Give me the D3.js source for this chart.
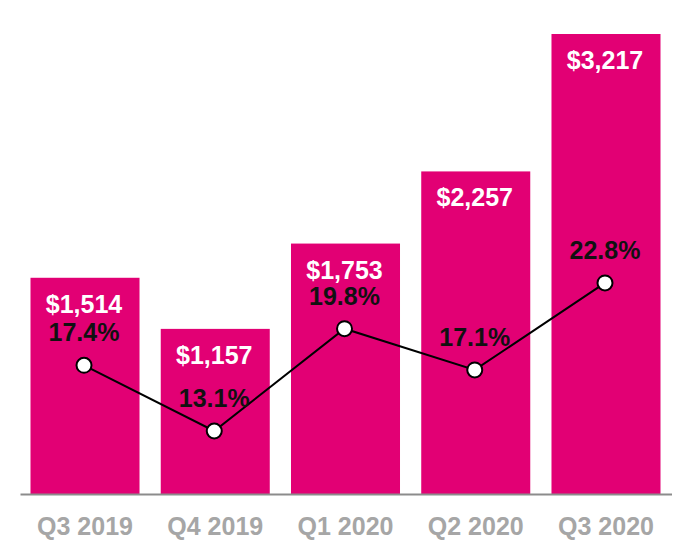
<!DOCTYPE html>
<html>
<head>
<meta charset="utf-8">
<script src="https://cdn.jsdelivr.net/npm/d3@7"></script>
<style>
  html, body { margin: 0; padding: 0; background: #fff; }
  svg { display: block; font-family: "Liberation Sans", Arial, sans-serif; }
</style>
</head>
<body>
<svg id="chart" width="690" height="560"></svg>
<script>
const quarters = ["Q3 2019", "Q4 2019", "Q1 2020", "Q2 2020", "Q3 2020"];
const revenue = [1514, 1157, 1753, 2257, 3217];
const revenueLabels = ["$1,514", "$1,157", "$1,753", "$2,257", "$3,217"];
const margin = [17.4, 13.1, 19.8, 17.1, 22.8];
const marginLabels = ["17.4%", "13.1%", "19.8%", "17.1%", "22.8%"];

const svg = d3.select("#chart");
const baseY = 494.5;

const x = d3.scaleBand().domain(quarters).range([30.5, 660.5]).paddingInner(0.163).paddingOuter(0);
const y = d3.scaleLinear().domain([0, 3217]).range([baseY, 34]);
const y2 = d3.scaleLinear().domain([0, 25]).range([631, 249.3]);

const data = quarters.map((q, i) => ({ q, v: revenue[i], vl: revenueLabels[i], m: margin[i], ml: marginLabels[i] }));

// bars
svg.append("g").selectAll("rect").data(data).join("rect")
  .attr("x", d => x(d.q))
  .attr("y", d => y(d.v))
  .attr("width", x.bandwidth())
  .attr("height", d => baseY - y(d.v))
  .attr("fill", "#E20074");

// baseline axis
const xAxis = d3.axisBottom(x).tickSize(0).tickPadding(0);
const axisG = svg.append("g").attr("transform", `translate(0,${baseY})`).call(xAxis);
axisG.select(".domain").remove();
axisG.append("line").attr("x1", 20.5).attr("x2", 672).attr("y1", 0).attr("y2", 0)
  .attr("stroke", "#8c8c8c").attr("stroke-width", 2);
axisG.selectAll(".tick text")
  .attr("y", 40).attr("dy", 0)
  .attr("fill", "#a6a6a6")
  .attr("font-size", "25px")
  .attr("font-weight", "bold")
  .attr("font-family", "'Liberation Sans', Arial, sans-serif");

// value labels
svg.append("g").selectAll("text").data(data).join("text")
  .attr("x", d => x(d.q) + x.bandwidth() / 2 - 1)
  .attr("y", d => y(d.v) + 35)
  .attr("text-anchor", "middle")
  .attr("fill", "#ffffff")
  .attr("font-size", "25px")
  .attr("font-weight", "bold")
  .text(d => d.vl);

// line
const cx = d => x(d.q) + x.bandwidth() / 2 - 1;
const line = d3.line().x(cx).y(d => y2(d.m));
svg.append("path").datum(data)
  .attr("d", line)
  .attr("fill", "none")
  .attr("stroke", "#000")
  .attr("stroke-width", 2);

// percent labels
svg.append("g").selectAll("text").data(data).join("text")
  .attr("x", cx)
  .attr("y", d => y2(d.m) - 24)
  .attr("text-anchor", "middle")
  .attr("fill", "#111")
  .attr("font-size", "25px")
  .attr("font-weight", "bold")
  .text(d => d.ml);

// markers
svg.append("g").selectAll("circle").data(data).join("circle")
  .attr("cx", cx)
  .attr("cy", d => y2(d.m))
  .attr("r", 7.5)
  .attr("fill", "#fff")
  .attr("stroke", "#000")
  .attr("stroke-width", 2);
</script>
</body>
</html>
